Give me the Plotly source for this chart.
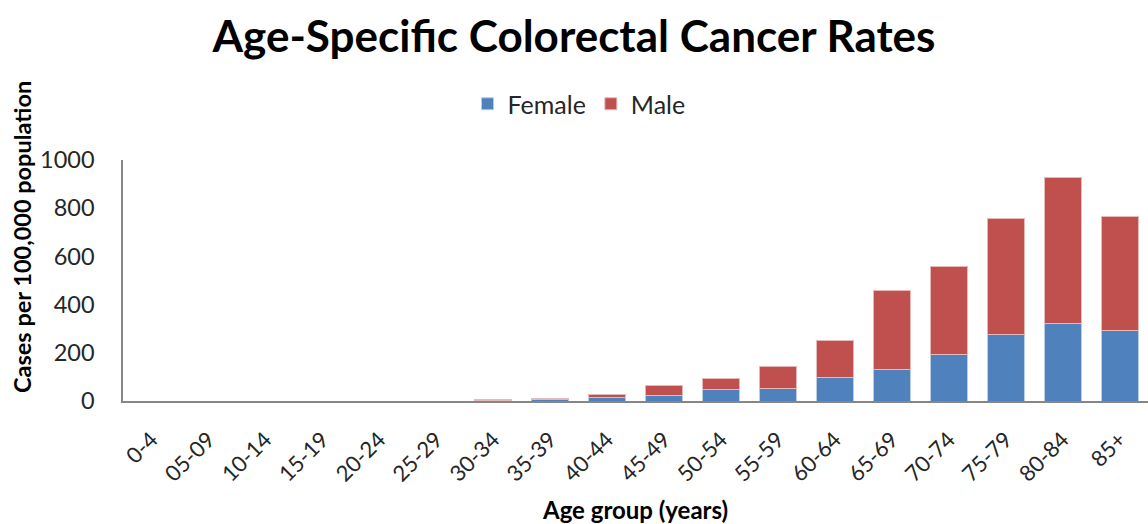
import plotly.graph_objects as go

age_groups = ["0-4", "05-09", "10-14", "15-19", "20-24", "25-29", "30-34", "35-39", "40-44",
              "45-49", "50-54", "55-59", "60-64", "65-69", "70-74", "75-79", "80-84", "85+"]
female = [0, 0, 0, 0, 0, 0, 2, 6, 13, 23, 48, 50, 97, 129, 192, 278, 321, 293]
male = [0, 0, 0, 0, 0, 0, 4, 6, 16, 42, 47, 94, 153, 329, 367, 479, 606, 473]
y_ticks = [0, 200, 400, 600, 800, 1000]

font_family = "Lato, 'Open Sans', sans-serif"

W, H = 1148, 524
L, R, T, B = 123, 0, 160, 123
pw, ph = W - L - R, H - T - B


def px_x(x):
    return (x - L) / pw


def px_y(y):
    return (H - B - y) / ph


fig = go.Figure()
fig.add_trace(go.Bar(x=age_groups, y=female, name="Female",
                     marker=dict(color="#4F81BD", line=dict(color="#B9CDE5", width=1))))
fig.add_trace(go.Bar(x=age_groups, y=male, name="Male",
                     marker=dict(color="#C0504D", line=dict(color="#E6B9B8", width=1))))

fig.update_layout(
    barmode="stack",
    bargap=0.35,
    width=W, height=H,
    margin=dict(l=L, r=R, t=T, b=B, autoexpand=False),
    paper_bgcolor="white", plot_bgcolor="white",
    font=dict(family=font_family, color="#262626"),
    title=dict(text="<b>Age-Specific Colorectal Cancer Rates</b>", x=0.5, xanchor="center",
               y=1 - 37 / H, yanchor="middle", font=dict(size=44, color="black", family=font_family)),
    legend=dict(orientation="h", x=px_x(579), xanchor="center", y=px_y(104), yanchor="middle",
                font=dict(size=25, color="#262626"), traceorder="normal"),
    showlegend=True,
    annotations=[
        dict(text="<b>Cases per 100,000 population</b>", xref="paper", yref="paper",
             x=px_x(22), y=px_y(237), xanchor="center", yanchor="middle", textangle=-90,
             showarrow=False, font=dict(size=23.5, color="black")),
        dict(text="<b>Age group (years)</b>", xref="paper", yref="paper",
             x=px_x(635), y=px_y(509), xanchor="center", yanchor="middle",
             showarrow=False, font=dict(size=24, color="black")),
    ],
)

fig.update_xaxes(
    type="category", automargin=False,
    showline=True, linecolor="#868686", linewidth=2,
    showgrid=False, ticks="", tickangle=-45,
    ticklabelstandoff=15,
    tickfont=dict(size=22, color="#262626"),
)
fig.update_yaxes(
    range=[0, 1000], tickvals=y_ticks, automargin=False,
    showline=True, linecolor="#868686", linewidth=1.5,
    showgrid=False, zeroline=False, ticks="",
    ticklabelstandoff=22,
    tickfont=dict(size=23.5, color="#262626"),
)

fig.write_html("out.html", config={"displayModeBar": False},
               post_script="document.body.style.margin='0';document.body.style.overflow='hidden';")
